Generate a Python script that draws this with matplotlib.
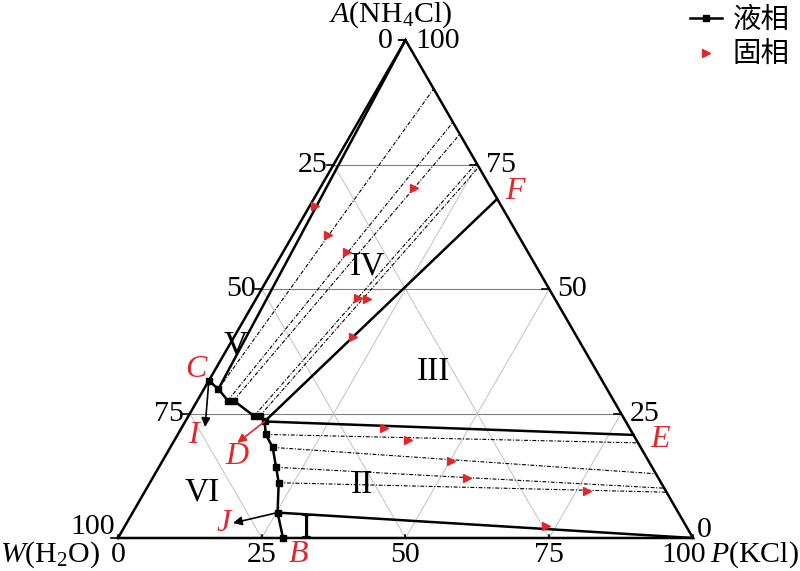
import numpy as np
import matplotlib
matplotlib.use("Agg")
import matplotlib.pyplot as plt

plt.rcParams['font.family'] = ['Liberation Serif', 'Noto Sans CJK SC', 'DejaVu Sans']
plt.rcParams['mathtext.fontset'] = 'custom'
plt.rcParams['mathtext.rm'] = 'Liberation Serif'
plt.rcParams['mathtext.it'] = 'Liberation Serif:italic'

# liquid phase, mass % (KCl, NH4Cl), along C -> D -> B
liq_kcl = [0.0, 2.5, 5.3, 6.3, 11.4, 12.4, 13.8, 15.3, 17.8, 20.4, 22.4, 25.2, 28.7]
liq_nh4cl = [31.6, 29.9, 27.6, 27.6, 24.5, 24.5, 23.4, 20.8, 18.2, 14.2, 11.1, 5.1, 0.0]

# solid phase (wet residue), mass % (KCl, NH4Cl)
sol_kcl = [0.9, 6.1, 11.1, 16.3, 17.6, 19.3, 20.7, 35.2, 40.6, 50.2, 54.7, 76.8, 73.2]
sol_nh4cl = [66.7, 60.8, 57.4, 70.3, 48.2, 48.0, 40.4, 22.1, 19.7, 15.5, 12.0, 9.4, 2.4]

# dashed tie lines: liquid point index -> NH4Cl % where the line meets side A-P
tie_idx = [1, 2, 3, 4, 5, 7, 8, 9, 10]
tie_end = [90.2, 83.5, 81.1, 75.3, 74.5, 19.1, 12.9, 10.0, 9.2]

# solid boundary lines (to A, F, E, P)
bound_idx = [1, 6, 6, 11]
bound_end = [100.0, 68.1, 20.7, 0.0]

# arrows C->I, D->D', J-point->J
arrow_from = [0, 6, 11]
arrow_kcl = [4.0, 11.2, 18.5]
arrow_nh4cl = [22.3, 19.1, 3.0]

ticks = [0, 25, 50, 75, 100]

red = '#e0282c'


def tern(p, a):
    p = np.asarray(p, float)
    a = np.asarray(a, float)
    return p + a / 2.0, a * np.sqrt(3) / 2.0


fig = plt.figure(figsize=(8, 5.71), dpi=100)
ax = fig.add_axes([0, 0, 1, 1])
ax.set_xlim(-20.52, 118.61)
ax.set_ylim(-5.74, 93.57)
ax.axis('off')

# grid
for v in ticks[1:-1]:
    x, y = tern([0, 100 - v], [v, v])
    ax.plot(x, y, color='#808080', lw=0.8, zorder=1)
    x, y = tern([v, v], [0, 100 - v])
    ax.plot(x, y, color='#b8b8b8', lw=0.6, zorder=1)
    x, y = tern([100 - v, 0], [0, 100 - v])
    ax.plot(x, y, color='#b8b8b8', lw=0.6, zorder=1)

# triangle
x, y = tern([0, 100, 0, 0], [0, 0, 100, 0])
ax.plot(x, y, color='black', lw=1.8, zorder=3, solid_joinstyle='miter')

# ticks
for v in ticks:
    x, y = tern(0, 100 - v)
    ax.plot([x - 1.2, x], [y, y], color='black', lw=1.2, zorder=3)
    x, y = tern(100 - v, v)
    ax.plot([x - 1.2, x], [y, y], color='black', lw=1.2, zorder=3)
    x, y = tern(v, 0)
    ax.plot([x, x], [y, y + 0.5], color='black', lw=1.2, zorder=3)

# dashed tie lines
for i, e in zip(tie_idx, tie_end):
    x, y = tern([liq_kcl[i], 100 - e], [liq_nh4cl[i], e])
    ax.plot(x, y, color='black', lw=0.8, ls=(0, (3.5, 1.5, 1, 1.5)), zorder=2)

# solid boundaries
for i, e in zip(bound_idx, bound_end):
    x, y = tern([liq_kcl[i], 100 - e], [liq_nh4cl[i], e])
    ax.plot(x, y, color='black', lw=1.8, zorder=3)

# liquid curve and solids
x, y = tern(liq_kcl, liq_nh4cl)
ax.plot(x, y, color='black', lw=1.8, marker='s', ms=5, zorder=4, label='液相')
xs, ys = tern(sol_kcl, sol_nh4cl)
ax.plot(xs, ys, ls='none', marker='>', ms=6, color=red, zorder=5, label='固相')

# arrows
for k, (i, pk, pa) in enumerate(zip(arrow_from, arrow_kcl, arrow_nh4cl)):
    c = red if k == 1 else 'black'
    ax.annotate('', xy=tern(pk, pa), xytext=(x[i], y[i]),
                arrowprops=dict(arrowstyle='-|>', color=c, lw=1.2, mutation_scale=13,
                                shrinkA=0, shrinkB=0), zorder=5)

# point labels
lab = dict(color=red, fontsize=23, fontstyle='italic', ha='center', va='center')
ax.annotate('C', (x[0], y[0]), xytext=(-9.5, 8), textcoords='offset points', **lab)
ax.annotate('I', tern(arrow_kcl[0], arrow_nh4cl[0]), xytext=(-8.5, -6.5), textcoords='offset points', **lab)
ax.annotate('D', tern(arrow_kcl[1], arrow_nh4cl[1]), xytext=(0, -10), textcoords='offset points', **lab)
ax.annotate('J', tern(arrow_kcl[2], arrow_nh4cl[2]), xytext=(-6.5, 0), textcoords='offset points', **lab)
ax.annotate('B', (x[-1], y[-1]), xytext=(11, -12), textcoords='offset points', **lab)
ax.annotate('E', tern(100 - bound_end[2], bound_end[2]), xytext=(19, -3), textcoords='offset points', **lab)
ax.annotate('F', tern(100 - bound_end[1], bound_end[1]), xytext=(13, 5), textcoords='offset points', **lab)

# region numerals
for s, (px, py) in zip(['IV', 'III', 'II', 'I', 'V', 'VI'],
                       [(43.3, 47.3), (54.8, 29.0), (42.4, 9.2), (32.7, 1.6), (20.5, 33.6), (14.6, 8.0)]):
    ax.text(px, py, s, fontsize=24, ha='center', va='center')

# tick labels
tk = dict(fontsize=21.5, textcoords='offset points', va='center')
for v in ticks:
    dx, dy = (-6.5, -12.2) if v == 100 else (0, -12.2)
    ax.annotate(str(v), tern(v, 0), xytext=(dx, dy), ha='center', **tk)
    dx, dy = {100: (-2, 8), 0: (-9, -1)}.get(v, (-4.5, 0))
    ax.annotate(str(v), tern(0, 100 - v), xytext=(dx, dy), ha='right', **tk)
    if v != 100:
        dx, dy = (3, 6) if v == 0 else (6, 0)
        ax.annotate(str(v), tern(100 - v, v), xytext=(dx, dy), ha='left', **tk)
ax.annotate('100', tern(0, 100), xytext=(7, -1), ha='left', **tk)

# axis titles
ax.annotate('$A$(NH$_4$Cl)', tern(0, 100), xytext=(-10.4, 18.5), ha='center', **tk)
ax.annotate('$W$(H$_2$O)', tern(0, 0), xytext=(-49, -12.2), ha='center', **tk)
ax.annotate('$P$(KCl)', tern(100, 0), xytext=(44.6, -12.2), ha='center', **tk)

ax.legend(loc='upper left', bbox_to_anchor=(0.862, 0.992), frameon=False, borderpad=0,
          borderaxespad=0, handlelength=1.15, handletextpad=0.35, labelspacing=0.18,
          prop={'family': 'Noto Sans CJK SC', 'size': 20.5})

fig.savefig('out.png', dpi=100)
